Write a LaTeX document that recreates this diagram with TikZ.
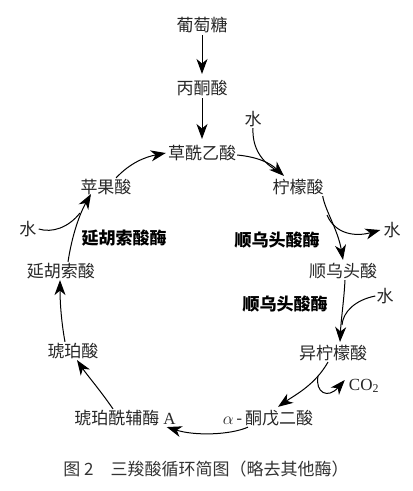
\documentclass[tikz,border=0pt]{standalone}
\usepackage{fontspec}
\setmainfont{Noto Sans CJK SC}
\newfontfamily\lat{Liberation Serif}
\usetikzlibrary{arrows.meta}
\begin{document}
\begin{tikzpicture}[x=1pt,y=-1pt,
  lbl/.style={font=\fontsize{17}{20}\selectfont, inner sep=1pt, text=black!85},
  enz/.style={font=\fontsize{17}{20}\selectfont\bfseries, inner sep=1pt},
  arr/.style={-{Stealth[length=15pt,width=11pt,inset=4.5pt]}, line width=1pt},
  ln/.style={line width=1pt}]
\useasboundingbox (0,0) rectangle (413,491);
\node[lbl] (glu) at (202,25) {葡萄糖};
\node[lbl] (pyr) at (202,88) {丙酮酸};
\node[lbl] (oaa) at (202,153) {草酰乙酸};
\node[lbl] (cit) at (298,187) {柠檬酸};
\node[lbl] (w1) at (253,119) {水};
\node[lbl] (w2) at (392,230) {水};
\node[enz] (e1) at (277,240) {顺乌头酸酶};
\node[lbl] (cis) at (343,271) {顺乌头酸};
\node[lbl] (w3) at (385,296) {水};
\node[enz] (e2) at (285,304) {顺乌头酸酶};
\node[lbl] (iso) at (333,353) {异柠檬酸};
\node[lbl] (co2) at (364,386) {\lat CO\textsubscript{2}};
\node[lbl] (akg) at (268,418) {$\alpha$\,-\,酮戊二酸};
\node[lbl] (sca) at (125,418) {琥珀酰辅酶 {\lat A}};
\node[lbl] (suc) at (73,351) {琥珀酸};
\node[lbl] (fum) at (61,271) {延胡索酸};
\node[lbl] (w4) at (28,229) {水};
\node[enz] (e3) at (124,238) {延胡索酸酶};
\node[lbl] (mal) at (106,187) {苹果酸};
\node[font=\fontsize{17}{19}\selectfont, text=black!80] (cap) at (206,469) {图 2\quad 三羧酸循环简图（略去其他酶）};
% junction coordinates
\coordinate (j1) at (276,170);
\coordinate (j2) at (327,215);
\coordinate (j3) at (342,325);
\coordinate (j4) at (318,376);
\coordinate (j5) at (80,213);
% straight arrows
\draw[arr, shorten >=5pt, shorten <=1pt] (glu) -- (pyr);
\draw[arr, shorten >=5pt, shorten <=1pt] (pyr) -- (oaa);
% oaa -> cit
\draw[arr] ([yshift=-2pt]oaa.east) .. controls (258,157) and (270,163) .. ([xshift=-14pt,yshift=2pt]cit.north);
\draw[ln] (w1.south) .. controls (252,148) and (262,162) .. (j1);
% cit -> cis
\draw[arr] ([xshift=-2pt]cit.south east) .. controls (325,210) and (338,230) .. ([xshift=0pt,yshift=2pt]cis.north);
\draw[arr] (j2) .. controls (335,234) and (355,237) .. ([xshift=-2pt]w2.west);
% cis -> iso
\draw[arr] ([xshift=2pt]cis.south) .. controls (344,300) and (341,320) .. ([xshift=7pt,yshift=2pt]iso.north);
\draw[ln] (w3.west) .. controls (355,300) and (343,312) .. (j3);
% iso -> akg
\draw[arr] ([xshift=-5pt]iso.south) .. controls (315,385) and (295,395) .. ([xshift=10pt,yshift=2pt]akg.north);
\draw[arr] (j4) .. controls (315,393) and (328,399) .. ([xshift=-3pt,yshift=6pt]co2.west);
% akg -> sca
\draw[arr] ([xshift=-20pt]akg.south) .. controls (230,435) and (195,436) .. ([xshift=-10pt]sca.south east);
% sca -> suc
\draw[arr] ([xshift=-12pt]sca.north) .. controls (100,390) and (87,375) .. ([xshift=4pt]suc.south);
% suc -> fum
\draw[arr] ([xshift=-8pt]suc.north) .. controls (61,320) and (60,300) .. ([xshift=-1pt]fum.south);
% fum -> mal
\draw[arr] ([xshift=7pt]fum.north) .. controls (72,235) and (80,213) .. ([xshift=-15pt,yshift=2pt]mal.south);
\draw[ln] ([xshift=1pt]w4.east) .. controls (52,233) and (68,228) .. (j5);
% mal -> oaa
\draw[arr] ([xshift=10pt]mal.north) .. controls (130,163) and (145,157) .. ([xshift=-1pt]oaa.west);
\end{tikzpicture}
\end{document}
